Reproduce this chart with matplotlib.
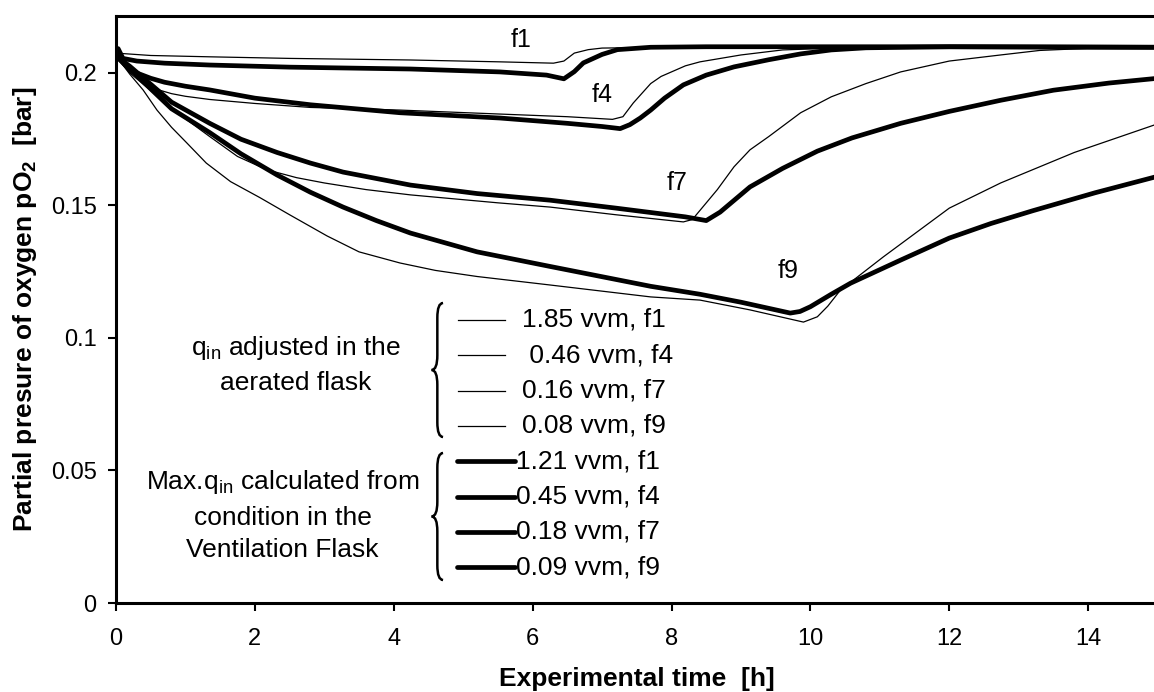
import numpy as np
import matplotlib
matplotlib.use("Agg")
import matplotlib.pyplot as plt
from matplotlib.path import Path
from matplotlib.patches import PathPatch

plt.rcParams['font.family'] = ['Liberation Sans', 'DejaVu Sans']
plt.rcParams['mathtext.default'] = 'regular'

# pO2 curves read off the measured runs (t in h, pO2 in bar)
# thin lines: q_in adjusted in the aerated flask
t_f1_adj = [0, 0.5, 1.35, 2.5, 4.24, 5.53, 6.3, 6.45, 6.6, 6.8, 7.0, 8.0, 10.0, 12.0, 15.0]
p_f1_adj = [0.2075, 0.2066, 0.2061, 0.2055, 0.2049, 0.2042, 0.2037, 0.2045, 0.2075, 0.2088, 0.2094,
            0.2097, 0.2098, 0.2098, 0.2097]

t_f4_adj = [0, 0.15, 0.3, 0.45, 0.63, 0.8, 1.0, 1.35, 2.0, 2.8, 4.09, 5.53, 6.5, 7.15, 7.3, 7.45, 7.7,
            7.85, 8.2, 8.41, 9.0, 9.6, 10.5, 12.0, 15.0]
p_f4_adj = [0.2065, 0.2015, 0.1985, 0.1955, 0.1935, 0.1922, 0.1912, 0.19, 0.1885, 0.187, 0.186, 0.1845,
            0.1835, 0.1825, 0.1835, 0.1887, 0.196, 0.1987, 0.2027, 0.2042, 0.2068, 0.2087, 0.2095,
            0.2098, 0.2097]

t_f7_adj = [0, 0.2, 0.49, 0.88, 1.35, 1.75, 2.17, 2.6, 3.0, 3.6, 4.24, 5.5, 6.25, 7.2, 8.17, 8.3, 8.66,
            8.9, 9.13, 9.4, 9.86, 10.3, 10.8, 11.3, 12.0, 12.74, 13.3, 14.0, 15.0]
p_f7_adj = [0.2065, 0.2, 0.1936, 0.185, 0.176, 0.1685, 0.1635, 0.1605, 0.1585, 0.156, 0.154, 0.151,
            0.1494, 0.1465, 0.1438, 0.1447, 0.156, 0.1646, 0.171, 0.176, 0.185, 0.191, 0.196, 0.2004,
            0.2045, 0.2068, 0.2085, 0.2093, 0.2097]

t_f9_adj = [0, 0.2, 0.39, 0.59, 0.8, 1.02, 1.3, 1.65, 2.07, 2.5, 3.04, 3.5, 4.09, 4.6, 5.2, 6.25, 7.7,
            8.41, 9.13, 9.9, 10.1, 10.25, 10.43, 11.05, 12.0, 12.74, 13.8, 15.0]
p_f9_adj = [0.2065, 0.1995, 0.1936, 0.186, 0.1795, 0.1736, 0.166, 0.159, 0.153, 0.1465, 0.1385, 0.1325,
            0.1283, 0.1255, 0.1232, 0.12, 0.1155, 0.1143, 0.1106, 0.106, 0.108, 0.112, 0.118, 0.1306,
            0.149, 0.1585, 0.170, 0.1808]

# thick lines: max. q_in calculated from the ventilation flask
t_f1_max = [0, 0.03, 0.1, 0.3, 0.7, 1.35, 2.5, 4.24, 5.53, 6.2, 6.45, 6.6, 6.73, 7.0, 7.22, 7.7, 8.5,
            10.0, 12.0, 15.0]
p_f1_max = [0.206, 0.2092, 0.2055, 0.2045, 0.2037, 0.203, 0.2022, 0.2015, 0.2004, 0.1992, 0.1978,
            0.2005, 0.2038, 0.207, 0.2088, 0.2097, 0.2099, 0.2099, 0.2099, 0.2097]

t_f4_max = [0, 0.15, 0.3, 0.5, 0.7, 1.0, 1.35, 2.0, 2.8, 4.09, 5.53, 6.5, 7.0, 7.26, 7.4, 7.55, 7.7,
            7.9, 8.17, 8.5, 8.9, 9.4, 9.86, 10.3, 10.8, 12.0, 15.0]
p_f4_max = [0.2065, 0.2025, 0.2, 0.198, 0.1965, 0.195, 0.1936, 0.1905, 0.188, 0.185, 0.183, 0.181,
            0.1798, 0.179, 0.1805, 0.183, 0.186, 0.1905, 0.1955, 0.1992, 0.2023, 0.205, 0.2072,
            0.2087, 0.2095, 0.2099, 0.2097]

t_f7_max = [0, 0.2, 0.4, 0.8, 1.35, 1.8, 2.32, 2.8, 3.27, 4.24, 5.2, 6.25, 7.2, 8.2, 8.5, 8.7, 9.13,
            9.6, 10.1, 10.6, 11.3, 12.0, 12.74, 13.5, 14.3, 15.0]
p_f7_max = [0.2065, 0.2025, 0.198, 0.189, 0.181, 0.175, 0.17, 0.166, 0.1626, 0.1577, 0.1545, 0.152,
            0.149, 0.1457, 0.1443, 0.1475, 0.157, 0.164, 0.1705, 0.1755, 0.181, 0.1855, 0.1897,
            0.1935, 0.1962, 0.198]

t_f9_max = [0, 0.2, 0.4, 0.8, 1.35, 1.8, 2.32, 2.8, 3.27, 3.75, 4.24, 5.2, 6.25, 7.7, 8.41, 9.0, 9.71,
            9.85, 10.0, 10.3, 10.58, 11.3, 12.0, 12.6, 13.2, 14.1, 15.0]
p_f9_max = [0.2065, 0.2015, 0.1965, 0.1865, 0.1775, 0.1695, 0.1615, 0.155, 0.1494, 0.1443, 0.1396,
            0.1325, 0.127, 0.1195, 0.1165, 0.1135, 0.1094, 0.11, 0.1118, 0.1165, 0.1207, 0.1294,
            0.1377, 0.1432, 0.148, 0.1548, 0.161]

adj_labels = ['1.85 vvm, f1', ' 0.46 vvm, f4', '0.16 vvm, f7', '0.08 vvm, f9']
max_labels = ['1.21 vvm, f1', '0.45 vvm, f4', '0.18 vvm, f7', '0.09 vvm, f9']

# flask tags and where they sit next to the curves
tag_names = ['f1', 'f4', 'f7', 'f9']
tag_t = [5.84, 7.0, 8.08, 9.68]
tag_p = [0.2125, 0.1917, 0.1585, 0.1253]

THIN = 0.9
THICK = 3.4
FS = 19


def brace(ax, x, y0, y1, w, d=0.025):
    # left-pointing curly brace in axes coordinates
    ym = (y0 + y1) / 2
    verts = [(x + w, y1), (x, y1), (x, y1 - d),
             (x, ym + d),
             (x, ym), (x - w, ym),
             (x, ym), (x, ym - d),
             (x, y0 + d),
             (x, y0), (x + w, y0)]
    codes = [Path.MOVETO, Path.CURVE3, Path.CURVE3,
             Path.LINETO,
             Path.CURVE3, Path.CURVE3,
             Path.CURVE3, Path.CURVE3,
             Path.LINETO,
             Path.CURVE3, Path.CURVE3]
    ax.add_patch(PathPatch(Path(verts, codes), transform=ax.transAxes, fill=False,
                           lw=1.8, color='black', clip_on=False))


fig = plt.figure(figsize=(11.54, 6.92), dpi=100)
ax = fig.add_axes([116 / 1154, 89 / 692, 1041.6 / 1154, 587 / 692])

for t, p in [(t_f1_adj, p_f1_adj), (t_f4_adj, p_f4_adj), (t_f7_adj, p_f7_adj), (t_f9_adj, p_f9_adj)]:
    ax.plot(t, p, color='black', lw=THIN, solid_joinstyle='round')
for t, p in [(t_f1_max, p_f1_max), (t_f4_max, p_f4_max), (t_f7_max, p_f7_max), (t_f9_max, p_f9_max)]:
    ax.plot(t, p, color='black', lw=THICK, solid_joinstyle='round', solid_capstyle='round')

for name, t, p in zip(tag_names, tag_t, tag_p):
    ax.text(t, p, name, fontsize=18, ha='center', va='center')

ax.set_xlim(0, 15)
ax.set_ylim(0, 0.2215)
ax.set_xticks(np.arange(0, 15, 2))
ax.set_yticks([0, 0.05, 0.1, 0.15, 0.2])
ax.set_yticklabels(['0', '0.05', '0.1', '0.15', '0.2'])
ax.tick_params(direction='out', length=6, width=1.5, labelsize=17, pad=8)
ax.tick_params(axis='x', pad=12)
for side in ['left', 'bottom', 'top', 'right']:
    ax.spines[side].set_linewidth(2.2)

ax.set_xlabel('Experimental time  [h]', fontsize=FS, fontweight='bold', va='center')
ax.set_ylabel('Partial presure of oxygen pO$_2$  [bar]', fontsize=FS, fontweight='bold', va='center')
ax.xaxis.set_label_coords(0.5, (603 - 679) / 587)
ax.yaxis.set_label_coords((25 - 116) / 1041.6, 0.5)

# hand-built legend with braces
row0 = (603 - 320) / 587
step = 35.3 / 587
for i, lab in enumerate(adj_labels + max_labels):
    y = row0 - i * step
    if i < 4:
        ax.plot([0.328, 0.373], [y, y], transform=ax.transAxes, color='black', lw=THIN)
        ax.text(0.3898, y, lab, transform=ax.transAxes, fontsize=FS, va='center')
    else:
        ax.plot([0.327, 0.383], [y, y], transform=ax.transAxes, color='black', lw=THICK,
                solid_capstyle='round')
        ax.text(0.384, y, lab, transform=ax.transAxes, fontsize=FS, va='center')

brace(ax, 0.3085, (603 - 437) / 587, (603 - 303) / 587, 0.0055)
brace(ax, 0.3085, (603 - 580) / 587, (603 - 453) / 587, 0.0055)

for txt, fy in [('q$_{in}$ adjusted in the', (603 - 348) / 587), ('aerated flask', (603 - 383) / 587)]:
    ax.text(0.1728, fy, txt, transform=ax.transAxes, fontsize=FS, ha='center', va='center')
for txt, fy in [('Max.q$_{in}$ calculated from', (603 - 482) / 587),
                ('condition in the', (603 - 518) / 587),
                ('Ventilation Flask', (603 - 550) / 587)]:
    ax.text(0.160, fy, txt, transform=ax.transAxes, fontsize=FS, ha='center', va='center')

fig.savefig('out.png', dpi=100)
